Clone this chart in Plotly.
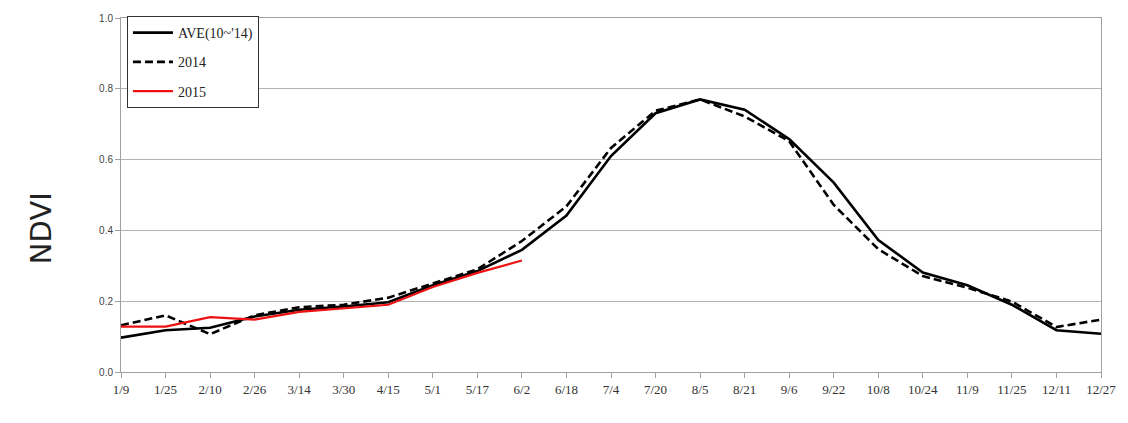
import plotly.graph_objects as go

categories = ["1/9", "1/25", "2/10", "2/26", "3/14", "3/30", "4/15", "5/1", "5/17", "6/2",
              "6/18", "7/4", "7/20", "8/5", "8/21", "9/6", "9/22", "10/8", "10/24", "11/9",
              "11/25", "12/11", "12/27"]
ave_10_14 = [0.097, 0.118, 0.125, 0.157, 0.176, 0.185, 0.197, 0.245, 0.285, 0.345,
             0.442, 0.610, 0.731, 0.770, 0.741, 0.658, 0.535, 0.373, 0.281, 0.245,
             0.190, 0.118, 0.108]
y2014 = [0.132, 0.160, 0.107, 0.160, 0.183, 0.190, 0.210, 0.250, 0.290, 0.370,
         0.468, 0.633, 0.738, 0.770, 0.722, 0.652, 0.472, 0.347, 0.271, 0.238,
         0.199, 0.127, 0.148]
y2015 = [0.128, 0.128, 0.155, 0.148, 0.170, 0.180, 0.190, 0.240, 0.280, 0.315]

xi = list(range(len(categories)))

fig = go.Figure()
fig.add_trace(go.Scatter(x=xi, y=ave_10_14, mode="lines", name="AVE(10~'14)",
                         line=dict(color="black", width=2.6), legendgroup="a"))
fig.add_trace(go.Scatter(x=xi, y=y2014, mode="lines", name="2014",
                         line=dict(color="black", width=2.6, dash="8px,4px"), legendgroup="b"))
fig.add_trace(go.Scatter(x=xi[:len(y2015)], y=y2015, mode="lines", name="2015",
                         line=dict(color="#ee1111", width=2.2), legendgroup="c"))

pw = 1128 - 121 - 20
ph = 423 - 12 - 51

fig.update_layout(
    width=1128, height=423,
    margin=dict(l=121, r=20, t=12, b=51),
    paper_bgcolor="white", plot_bgcolor="white",
    showlegend=True,
    legend=dict(x=(127 - 121) / pw, y=(372 - 10) / ph, xanchor="left", yanchor="top",
                bgcolor="white", bordercolor="#333333", borderwidth=1,
                font=dict(family="Liberation Serif", size=14, color="#222222"),
                itemwidth=40,
                tracegroupgap=8, traceorder="grouped"),
    xaxis=dict(
        tickmode="array", tickvals=xi, ticktext=categories,
        range=[0, len(categories) - 1],
        showgrid=False, zeroline=False,
        showline=True, linecolor="#a0a0a0", linewidth=1, mirror=True,
        ticks="outside", ticklen=5, tickcolor="#a0a0a0",
        tickfont=dict(family="Liberation Serif", size=13, color="#333333"),
    ),
    yaxis=dict(
        range=[0, 1.0], tickvals=[0, 0.2, 0.4, 0.6, 0.8, 1.0],
        tickformat=".1f",
        showgrid=True, gridcolor="#b4b4b4", gridwidth=1,
        zeroline=False,
        showline=True, linecolor="#a0a0a0", linewidth=1, mirror=True,
        ticks="outside", ticklen=5, tickcolor="#a0a0a0",
        tickfont=dict(family="Liberation Sans", size=10, color="#444444"),
    ),
    annotations=[dict(text="NDVI", x=(22 - 121) / pw, y=(372 - 226) / ph,
                      xref="paper", yref="paper",
                      showarrow=False, textangle=-90,
                      font=dict(family="DejaVu Sans", size=29, color="#222222"))],
)

fig.write_html("out.html")
